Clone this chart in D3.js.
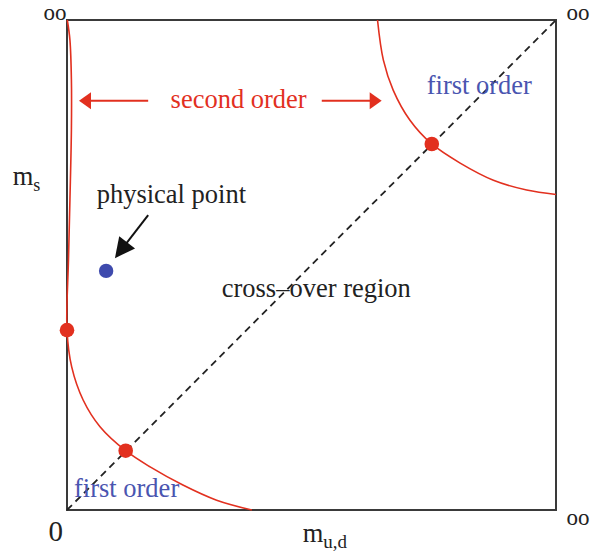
<!DOCTYPE html>
<html>
<head>
<meta charset="utf-8">
<script src="https://cdn.jsdelivr.net/npm/d3@7"></script>
<style>
	body { margin: 0; background: #fff; }
	text { font-family: "Liberation Serif", "Times New Roman", serif; }
</style>
</head>
<body>
<div id="chart"></div>
<script>
// Columbia plot: quark masses m_u,d vs m_s (unit square, 1 = infinity)

// lower-left transition line (runs down the m_ud = 0 edge, then bends out)
var lowerLine = [
	[0.0006, 1.000], [0.006, 0.959], [0.009, 0.878], [0.009, 0.776],
	[0.006, 0.633], [0.003, 0.510], [0.000, 0.367], [0.0096, 0.292],
	[0.033, 0.2245], [0.0675, 0.170], [0.120, 0.121], [0.170, 0.088],
	[0.237, 0.051], [0.306, 0.020], [0.378, 0.000]
];

// upper-right transition line (heavy quarks)
var upperLine = [
	[0.635, 1.000], [0.647, 0.918], [0.667, 0.857], [0.701, 0.796],
	[0.746, 0.747], [0.804, 0.708], [0.872, 0.673], [0.940, 0.653],
	[1.000, 0.644]
];

// critical points on the lines
var redPoints = [[0.000, 0.367], [0.120, 0.121], [0.746, 0.747]];
var physPoint = [0.080, 0.488];

// diagonal m_ud = m_s
var diagonal = [[0, 0], [1, 1]];

// "second order" arrows: [from, to]
var secondOrderArrows = [
	[[0.166, 0.835], [0.0245, 0.835]],
	[[0.521, 0.835], [0.6435, 0.835]]
];
var physArrow = [[0.166, 0.602], [0.098, 0.514]];

var labels = [
	{text: 'second order', x: 0.351, y: 0.820, color: '#e2301f', anchor: 'middle'},
	{text: 'first order', x: 0.7356, y: 0.850, color: '#4a55b0', anchor: 'start'},
	{text: 'first order', x: 0.0143, y: 0.027, color: '#4a55b0', anchor: 'start'},
	{text: 'physical point', x: 0.0607, y: 0.6265, color: '#222', anchor: 'start'},
	{text: 'cross\u2013over region', x: 0.3164, y: 0.4353, color: '#222', anchor: 'start'},
	{text: 'oo', x: -0.001, y: 0.999, color: '#222', anchor: 'end', size: 23},
	{text: 'oo', x: 1.0215, y: 0.999, color: '#222', anchor: 'start', size: 23},
	{text: 'oo', x: 1.0215, y: -0.031, color: '#222', anchor: 'start', size: 23},
	{text: '0', x: -0.023, y: -0.063, color: '#222', anchor: 'middle', size: 29}
];

var width = 590,
	height = 557,
	box = {left: 67, right: 556, top: 20, bottom: 510},
	red = '#e2301f';

var x = d3.scaleLinear().domain([0, 1]).range([box.left, box.right]);
var y = d3.scaleLinear().domain([0, 1]).range([box.bottom, box.top]);

var svg = d3.select('#chart').append('svg')
	.attr('width', width)
	.attr('height', height);

// frame
svg.append('rect')
	.attr('x', x(0))
	.attr('y', y(1))
	.attr('width', x(1) - x(0))
	.attr('height', y(0) - y(1))
	.attr('fill', 'none')
	.attr('stroke', '#3a3a3a')
	.attr('stroke-width', 2);

var line = d3.line()
	.x(function(d) { return x(d[0]); })
	.y(function(d) { return y(d[1]); });

// dashed diagonal
svg.append('path')
	.attr('d', line(diagonal))
	.attr('fill', 'none')
	.attr('stroke', '#222')
	.attr('stroke-width', 1.8)
	.attr('stroke-dasharray', '7,5');

var curve = d3.line()
	.x(function(d) { return x(d[0]); })
	.y(function(d) { return y(d[1]); })
	.curve(d3.curveCatmullRom.alpha(0.5));

svg.selectAll('path.transition')
	.data([lowerLine, upperLine])
	.enter().append('path')
	.attr('class', 'transition')
	.attr('d', curve)
	.attr('fill', 'none')
	.attr('stroke', red)
	.attr('stroke-width', 1.6);

// arrow helper: shaft plus a filled head at the "to" end
function arrow(g, from, to, color, headLen, headHalf, sw) {
	var x0 = x(from[0]), y0 = y(from[1]), x1 = x(to[0]), y1 = y(to[1]);
	var dx = x1 - x0, dy = y1 - y0, len = Math.sqrt(dx * dx + dy * dy);
	var ux = dx / len, uy = dy / len;
	var bx = x1 - ux * headLen, by = y1 - uy * headLen;
	g.append('line')
		.attr('x1', x0).attr('y1', y0)
		.attr('x2', bx + ux * 1).attr('y2', by + uy * 1)
		.attr('stroke', color)
		.attr('stroke-width', sw);
	g.append('polygon')
		.attr('points', [
			[x1, y1],
			[bx - uy * headHalf, by + ux * headHalf],
			[bx + uy * headHalf, by - ux * headHalf]
		].join(' '))
		.attr('fill', color);
}

var arrows = svg.append('g');
secondOrderArrows.forEach(function(a) {
	arrow(arrows, a[0], a[1], red, 12, 8.5, 2);
});
arrow(arrows, physArrow[0], physArrow[1], '#111', 20, 10, 2);

// points
svg.selectAll('circle.crit')
	.data(redPoints)
	.enter().append('circle')
	.attr('class', 'crit')
	.attr('cx', function(d) { return x(d[0]); })
	.attr('cy', function(d) { return y(d[1]); })
	.attr('r', 7.3)
	.attr('fill', red);

svg.append('circle')
	.attr('cx', x(physPoint[0]))
	.attr('cy', y(physPoint[1]))
	.attr('r', 7.2)
	.attr('fill', '#3e4aad');

// text labels
svg.selectAll('text.label')
	.data(labels)
	.enter().append('text')
	.attr('class', 'label')
	.attr('x', function(d) { return x(d.x); })
	.attr('y', function(d) { return y(d.y); })
	.attr('fill', function(d) { return d.color; })
	.attr('text-anchor', function(d) { return d.anchor; })
	.style('font-size', function(d) { return (d.size || 26.5) + 'px'; })
	.text(function(d) { return d.text; });

// axis labels with subscripts
var msLabel = svg.append('text')
	.attr('x', x(-0.111))
	.attr('y', y(0.663))
	.attr('fill', '#222')
	.style('font-size', '26.5px');
msLabel.append('tspan').text('m');
msLabel.append('tspan').attr('dy', 6).style('font-size', '18px').text('s');

var mudLabel = svg.append('text')
	.attr('x', x(0.482))
	.attr('y', y(-0.0647))
	.attr('fill', '#222')
	.style('font-size', '26.5px');
mudLabel.append('tspan').text('m');
mudLabel.append('tspan').attr('dy', 6).style('font-size', '19px').text('u,d');
</script>
</body>
</html>
